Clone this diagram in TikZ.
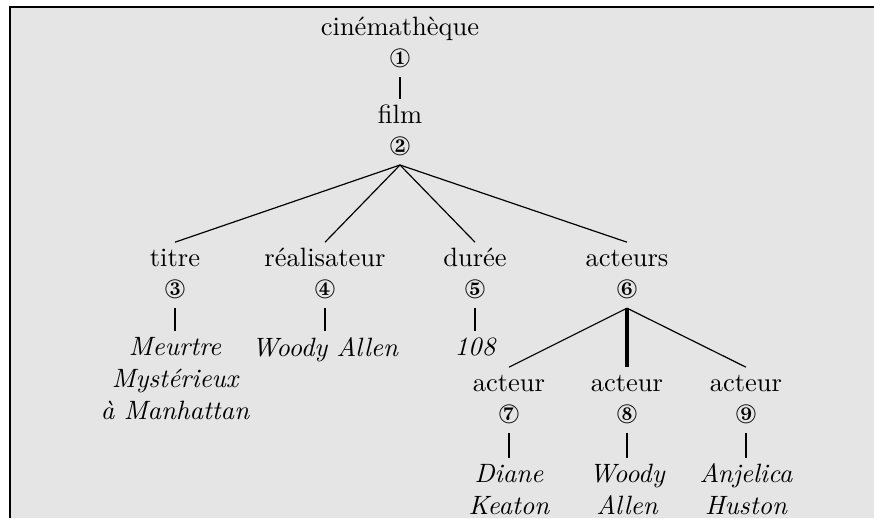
\documentclass[tikz,border=0pt]{standalone}
\usepackage{pifont}
\definecolor{bg}{RGB}{229,229,229}
\newcommand{\cnum}[1]{\ding{\numexpr171+#1\relax}}
\newcommand{\lab}[2]{\rule{0pt}{7pt}#1\\\rule[-1.5pt]{0pt}{0pt}\cnum{#2}}
\begin{document}
\begin{tikzpicture}[x=0.3774pt,y=-0.3774pt,
  tnode/.style={align=center,inner sep=2pt,anchor=north},
  leaf/.style={align=center,inner sep=2pt,anchor=north,font=\itshape},
  thin/.style={line width=0.45pt},
  thick/.style={line width=1.1pt},
  thicker/.style={line width=1.4pt}]
\useasboundingbox (0,0) rectangle (874,518);
\fill[bg] (10,7) rectangle (874,518);
\draw[line width=0.8pt] (10,518) -- (10,7) -- (874,7);
% nodes
\node[tnode] (cine) at (400,11.2) {\lab{cinémathèque}{1}};
\node[tnode] (film) at (400,98.9) {\lab{film}{2}};
\node[tnode] (titre) at (175,242.2) {\lab{titre}{3}};
\node[tnode] (real) at (325,242.2) {\lab{réalisateur}{4}};
\node[tnode] (duree) at (475,242.2) {\lab{durée}{5}};
\node[tnode] (acteurs) at (627,242.2) {\lab{acteurs}{6}};
\node[leaf] (meurtre) at (175,331.2) {\rule{0pt}{7pt}Meurtre\\Mystérieux\\à Manhattan};
\node[leaf] (woody) at (325,331.2) {\rule{0pt}{7pt}Woody Allen};
\node[leaf] (cent) at (475,331.2) {\rule{0pt}{7pt}108};
\node[tnode] (a7) at (509,367.2) {\lab{acteur}{7}};
\node[tnode] (a8) at (627,367.2) {\lab{acteur}{8}};
\node[tnode] (a9) at (746,367.2) {\lab{acteur}{9}};
\node[leaf] (diane) at (509,457.9) {\rule{0pt}{7pt}Diane\\Keaton};
\node[leaf] (wa) at (627,457.9) {\rule{0pt}{7pt}Woody\\Allen};
\node[leaf] (anj) at (746,457.9) {\rule{0pt}{7pt}Anjelica\\Huston};
% connectors
\draw[thick] (cine.south) -- (film.north);
\draw[thin] (film.south) -- (titre.north);
\draw[thin] (film.south) -- (real.north);
\draw[thin] (film.south) -- (duree.north);
\draw[thin] (film.south) -- (acteurs.north);
\draw[thick] (titre.south) -- (meurtre.north);
\draw[thick] (real.south) -- (woody.north);
\draw[thick] (duree.south) -- (cent.north);
\draw[thin] (acteurs.south) -- (a7.north);
\draw[thicker] (acteurs.south) -- (a8.north);
\draw[thin] (acteurs.south) -- (a9.north);
\draw[thick] (a7.south) -- (diane.north);
\draw[thick] (a8.south) -- (wa.north);
\draw[thick] (a9.south) -- (anj.north);
\end{tikzpicture}
\end{document}
